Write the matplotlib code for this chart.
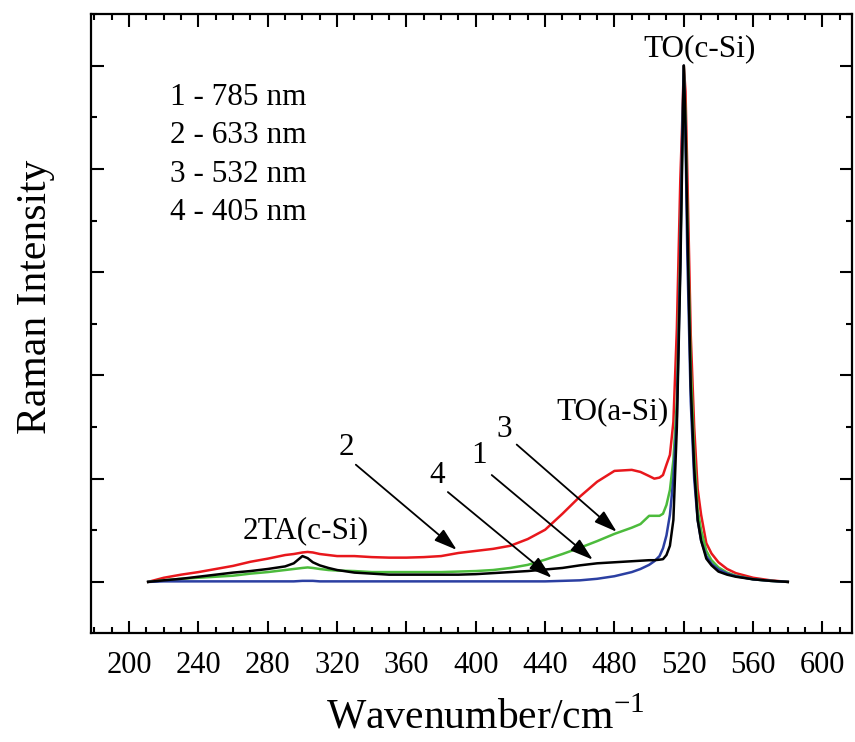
import matplotlib
matplotlib.use("Agg")
import matplotlib.pyplot as plt
from matplotlib.ticker import MultipleLocator, NullFormatter

plt.rcParams["font.family"] = ["Liberation Serif", "DejaVu Serif"]
plt.rcParams["mathtext.fontset"] = "custom"
plt.rcParams["mathtext.rm"] = "Liberation Serif"

# Raman shift grid (cm^-1), denser around the c-Si TO line
wavenumber = [211, 220, 230, 240, 250, 260, 270, 280, 290, 295, 300, 303, 306,
              310, 315, 320, 330, 340, 350, 360, 370, 380, 390, 400, 410, 420,
              430, 440, 450, 460, 470, 480, 490, 495, 500, 503, 506, 508, 510,
              512, 514, 516, 518, 519, 520, 521, 522, 524, 526, 528, 530, 533,
              536, 540, 545, 550, 560, 570, 580]

# normalised intensity, one list per excitation line
i_785 = [0, 0.003, 0.006, 0.010, 0.014, 0.018, 0.021, 0.025, 0.030, 0.036,
         0.050, 0.046, 0.038, 0.032, 0.027, 0.023, 0.018, 0.016, 0.014, 0.014,
         0.014, 0.014, 0.014, 0.015, 0.017, 0.019, 0.021, 0.024, 0.027, 0.032,
         0.036, 0.038, 0.040, 0.041, 0.042, 0.042, 0.043, 0.044, 0.052, 0.07,
         0.12, 0.30, 0.60, 0.80, 1.0, 0.88, 0.70, 0.38, 0.22, 0.12, 0.08,
         0.045, 0.032, 0.020, 0.014, 0.010, 0.005, 0.002, 0]
i_633 = [0, 0.008, 0.014, 0.019, 0.025, 0.031, 0.039, 0.045, 0.052, 0.054,
         0.057, 0.058, 0.057, 0.054, 0.052, 0.050, 0.050, 0.048, 0.047, 0.047,
         0.048, 0.050, 0.056, 0.060, 0.064, 0.070, 0.083, 0.101, 0.132, 0.165,
         0.194, 0.215, 0.217, 0.213, 0.205, 0.200, 0.202, 0.207, 0.227, 0.246,
         0.31, 0.49, 0.78, 0.88, 1.0, 0.95, 0.80, 0.48, 0.30, 0.18, 0.13,
         0.075, 0.055, 0.038, 0.025, 0.017, 0.008, 0.003, 0]
i_532 = [0, 0.003, 0.006, 0.008, 0.010, 0.012, 0.016, 0.019, 0.023, 0.025,
         0.027, 0.028, 0.027, 0.025, 0.023, 0.022, 0.021, 0.019, 0.019, 0.019,
         0.019, 0.019, 0.020, 0.021, 0.023, 0.027, 0.033, 0.043, 0.054, 0.066,
         0.079, 0.093, 0.105, 0.112, 0.128, 0.128, 0.128, 0.132, 0.149, 0.178,
         0.236, 0.35, 0.64, 0.82, 1.0, 0.90, 0.72, 0.42, 0.25, 0.14, 0.10,
         0.06, 0.042, 0.028, 0.018, 0.012, 0.005, 0.002, 0]
i_405 = [0, 0.001, 0.001, 0.001, 0.001, 0.001, 0.001, 0.001, 0.001, 0.001,
         0.002, 0.002, 0.002, 0.001, 0.001, 0.001, 0.001, 0.001, 0.001, 0.001,
         0.001, 0.001, 0.001, 0.001, 0.001, 0.001, 0.001, 0.001, 0.002, 0.003,
         0.006, 0.011, 0.019, 0.025, 0.033, 0.040, 0.050, 0.065, 0.09, 0.13,
         0.20, 0.32, 0.62, 0.85, 1.0, 0.86, 0.64, 0.35, 0.20, 0.12, 0.08,
         0.05, 0.035, 0.024, 0.016, 0.011, 0.005, 0.002, 0]

legend_lines = ["1 - 785 nm", "2 - 633 nm", "3 - 532 nm", "4 - 405 nm"]

fig = plt.figure(figsize=(8.55, 7.42), dpi=100)
ax = fig.add_axes([0.1064, 0.1469, 0.89, 0.8342])

ax.plot(wavenumber, i_633, color="#e8171c", lw=1.8)
ax.plot(wavenumber, i_532, color="#4cbb3c", lw=1.8)
ax.plot(wavenumber, i_405, color="#2b3fa2", lw=1.8)
ax.plot(wavenumber, i_785, color="black", lw=1.8)

ax.set_xlim(178, 617)
ax.set_ylim(-0.099, 1.1)
ax.xaxis.set_major_locator(MultipleLocator(40))
ax.xaxis.set_minor_locator(MultipleLocator(10))
ax.yaxis.set_major_locator(MultipleLocator(0.2))
ax.yaxis.set_minor_locator(MultipleLocator(0.1))
ax.yaxis.set_major_formatter(NullFormatter())
ax.tick_params(which="both", direction="in", top=True, right=True, width=1.5)
ax.tick_params(which="major", length=9, labelsize=22, pad=13)
ax.tick_params(which="minor", length=4.5)
for sp in ax.spines.values():
    sp.set_linewidth(1.6)

ax.set_xlabel(r"Wavenumber/cm$^{\mathrm{-1}}$", fontsize=30)
ax.xaxis.set_label_coords(0.518, -0.104)
ax.set_ylabel("Raman Intensity", fontsize=30)
ax.yaxis.set_label_coords(-0.047, 0.543)

fs = 22.5
for k, txt in enumerate(legend_lines):
    ax.text(223.6, 0.938 - 0.074 * k, txt, fontsize=fs, ha="left", va="center")

# peak labels
ax.text(529, 1.033, "TO(c-Si)", fontsize=fs, ha="center", va="center")
ax.text(479, 0.329, "TO(a-Si)", fontsize=fs, ha="center", va="center")
ax.text(302, 0.10, "2TA(c-Si)", fontsize=fs, ha="center", va="center")

# numbered arrows pointing at each spectrum
arrows = [("2", (325.6, 0.26), (330.8, 0.227), (389.0, 0.062)),
          ("4", (377.5, 0.207), (383.9, 0.174), (443.8, 0.008)),
          ("1", (401.7, 0.244), (409.2, 0.207), (467.5, 0.043)),
          ("3", (416.7, 0.295), (423.6, 0.266), (481.3, 0.097))]
for lab, pos, tail, head in arrows:
    ax.text(pos[0], pos[1], lab, fontsize=fs, ha="center", va="center")
    ax.annotate("", xy=head, xytext=tail,
                arrowprops=dict(arrowstyle="-|>,head_length=0.7,head_width=0.22",
                                color="black", lw=1.3, mutation_scale=20,
                                shrinkA=0, shrinkB=0))

fig.savefig("out.png", dpi=100)
